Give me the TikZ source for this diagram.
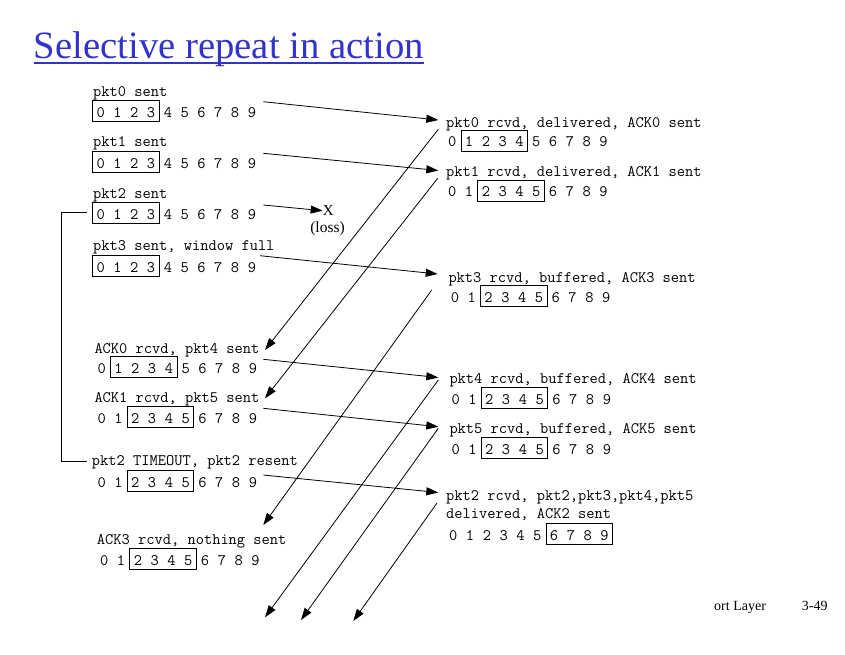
\documentclass[tikz,border=0pt]{standalone}
\usepackage{fontspec}
\usetikzlibrary{arrows.meta,fit}
\newfontfamily\serifx{Liberation Serif}
\definecolor{titleblue}{RGB}{51,51,204}
\newcommand\digrow[3]{\foreach \i in {0,...,9}{\node[dig] (#1-\i) at ({#2+16.8*\i},#3) {\i};}}
\begin{document}
\begin{tikzpicture}[x=1pt,y=-1pt,
  lab/.style={font=\fontsize{16}{18}\selectfont\ttfamily, inner sep=0pt, anchor=base west, text height=11pt, text depth=3pt},
  dig/.style={font=\fontsize{16}{18}\selectfont\ttfamily, inner sep=0pt, anchor=base, text height=12.5pt, text depth=0pt},
  win/.style={draw, line width=0.8pt, inner xsep=3.8pt, inner ysep=4pt},
  arr/.style={-{Triangle[length=12pt,width=8pt]}, line width=0.8pt},
  plain/.style={line width=0.8pt}]
\useasboundingbox (0,0) rectangle (845,654);
% title
\node[font=\serifx\fontsize{38.7}{44}\selectfont, text=titleblue, inner sep=0pt, anchor=base west] (title) at (33.5,58.3) {Selective repeat in action};
\draw[titleblue, line width=2pt] ([yshift=-4.4pt]title.base west) -- ([yshift=-4.4pt]title.base east);
% sender labels
\node[lab] (L1) at (93,96.7) {pkt0 sent};
\node[lab] (L2) at (93,146.7) {pkt1 sent};
\node[lab] (L3) at (93,198.3) {pkt2 sent};
\node[lab] (L4) at (93,250) {pkt3 sent, window full};
\node[lab] (L5) at (94.3,353) {ACK0 rcvd, pkt4 sent};
\node[lab] (L6) at (94.3,402) {ACK1 rcvd, pkt5 sent};
\node[lab] (L7) at (91.7,465) {pkt2 TIMEOUT, pkt2 resent};
\node[lab] (L8) at (96.7,544) {ACK3 rcvd, nothing sent};
% sender rows
\digrow{s1}{100.7}{117}
\digrow{s2}{100.7}{168}
\digrow{s3}{100.7}{219}
\digrow{s4}{100.7}{272}
\digrow{s5}{101.7}{373.3}
\digrow{s6}{101.7}{423}
\digrow{s7}{101.7}{487}
\digrow{s8}{104.3}{565}
\node[win, fit=(s1-0)(s1-3)] (s1box) {};
\node[win, fit=(s2-0)(s2-3)] (s2box) {};
\node[win, fit=(s3-0)(s3-3)] (s3box) {};
\node[win, fit=(s4-0)(s4-3)] (s4box) {};
\node[win, fit=(s5-1)(s5-4)] (s5box) {};
\node[win, fit=(s6-2)(s6-5)] (s6box) {};
\node[win, fit=(s7-2)(s7-5)] (s7box) {};
\node[win, fit=(s8-2)(s8-5)] (s8box) {};
% receiver labels
\node[lab] (R1) at (446,127) {pkt0 rcvd, delivered, ACK0 sent};
\node[lab] (R2) at (446,176) {pkt1 rcvd, delivered, ACK1 sent};
\node[lab] (R3) at (448.3,282) {pkt3 rcvd, buffered, ACK3 sent};
\node[lab] (R4) at (449.3,383) {pkt4 rcvd, buffered, ACK4 sent};
\node[lab] (R5) at (449.3,433) {pkt5 rcvd, buffered, ACK5 sent};
\node[lab] (R6) at (446,500) {pkt2 rcvd, pkt2,pkt3,pkt4,pkt5};
\node[lab] (R6b) at (446,518) {delivered, ACK2 sent};
% receiver rows
\digrow{r1}{452.3}{146.7}
\digrow{r2}{452.3}{196.7}
\digrow{r3}{455}{302}
\digrow{r4}{455.7}{404}
\digrow{r5}{455.7}{454}
\digrow{r6}{453.3}{540.5}
\node[win, fit=(r1-1)(r1-4)] (r1box) {};
\node[win, fit=(r2-2)(r2-5)] (r2box) {};
\node[win, fit=(r3-2)(r3-5)] (r3box) {};
\node[win, fit=(r4-2)(r4-5)] (r4box) {};
\node[win, fit=(r5-2)(r5-5)] (r5box) {};
\node[win, fit=(r6-6)(r6-9)] (r6box) {};
% loss mark
\node[font=\serifx\fontsize{15}{16}\selectfont, inner sep=0pt] (xm) at (328.3,210.7) {X};
\node[font=\serifx\fontsize{15.5}{17}\selectfont, inner sep=0pt] (loss) at (327.5,229) {(loss)};
% footer
\node[font=\serifx\fontsize{14}{16}\selectfont, inner sep=0pt, anchor=base west] (footer) at (714,610) {ort Layer\hspace{36pt}3-49};
% arrow end points
\coordinate (p0a) at (263.3,101.7); \coordinate (p0b) at (438.3,120);
\coordinate (p1a) at (263.3,153.3); \coordinate (p1b) at (438.3,170.5);
\coordinate (p2a) at (263.3,205);
\coordinate (p3a) at (260,255.7);   \coordinate (p3b) at (437.7,274);
\coordinate (p4a) at (263.3,359.3); \coordinate (p4b) at (438.3,377.5);
\coordinate (p5a) at (263.3,408.3); \coordinate (p5b) at (438.3,426.7);
\coordinate (p2ra) at (263.3,475);  \coordinate (p2rb) at (438.3,492.5);
\coordinate (k0a) at (438.3,129.3); \coordinate (k0b) at (265,350);
\coordinate (k1a) at (437.7,178.3); \coordinate (k1b) at (265,398.3);
\coordinate (k3a) at (431.7,290);   \coordinate (k3b) at (263.3,525);
\coordinate (k4a) at (438.3,380);   \coordinate (k4b) at (265,617.3);
\coordinate (k5a) at (438.3,428.3); \coordinate (k5b) at (301,620);
\coordinate (k2a) at (437,503);     \coordinate (k2b) at (353.3,621);
% data packets
\draw[arr] (p0a) -- (p0b);
\draw[arr] (p1a) -- (p1b);
\draw[arr] (p2a) -- (xm.west);
\draw[arr] (p3a) -- (p3b);
\draw[arr] (p4a) -- (p4b);
\draw[arr] (p5a) -- (p5b);
\draw[arr] (p2ra) -- (p2rb);
% acks
\draw[arr] (k0a) -- (k0b);
\draw[arr] (k1a) -- (k1b);
\draw[arr] (k3a) -- (k3b);
\draw[arr] (k4a) -- (k4b);
\draw[arr] (k5a) -- (k5b);
\draw[arr] (k2a) -- (k2b);
% timeout bracket
\draw[plain] ([xshift=-4.7pt]s3box.west) -- ++(-26.5,0) |- ([xshift=-4.7pt]L7.west);
\end{tikzpicture}
\end{document}
